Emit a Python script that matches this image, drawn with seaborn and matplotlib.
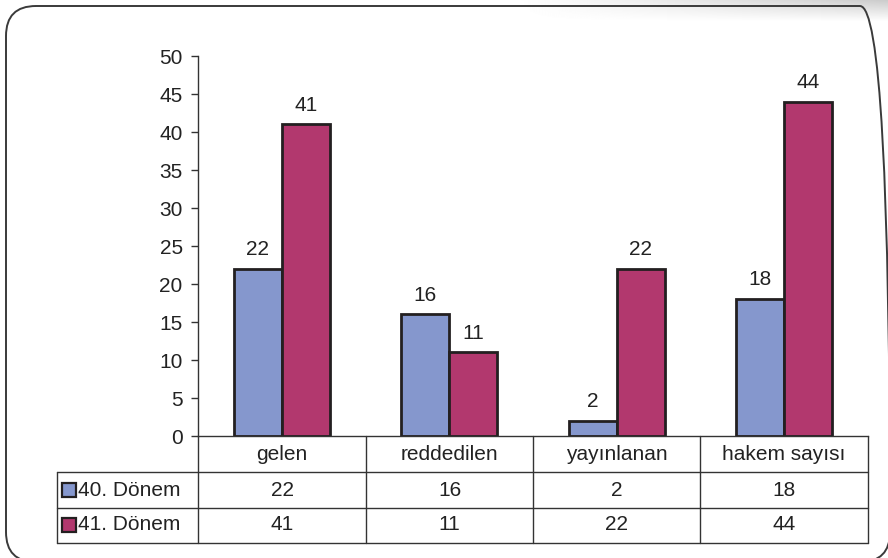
import matplotlib
matplotlib.use("Agg")
import matplotlib.pyplot as plt
import numpy as np
import pandas as pd
import seaborn as sns
from matplotlib.patches import FancyBboxPatch, Rectangle
from matplotlib.lines import Line2D

# data
categories = ["gelen", "reddedilen", "yayınlanan", "hakem sayısı"]
series_names = ["40. Dönem", "41. Dönem"]
donem_40 = [22, 16, 2, 18]
donem_41 = [41, 11, 22, 44]
colors = {"40. Dönem": "#8597CD", "41. Dönem": "#B2386E"}

W, H = 888, 558
FS = 15


# pixel -> figure fraction helpers
def fx(x):
    return x / W


def fy(y):
    return 1 - y / H


sns.set_theme(style="white")
plt.rcParams["font.family"] = ["Liberation Sans", "DejaVu Sans"]

df = pd.DataFrame({
    "kategori": categories * 2,
    "donem": [series_names[0]] * 4 + [series_names[1]] * 4,
    "deger": donem_40 + donem_41,
})

fig = plt.figure(figsize=(W / 100, H / 100), dpi=100)
fig.patch.set_facecolor("white")

# shadow strip at top right
sh = fig.add_axes([fx(330), fy(22), fx(888) - fx(330), fy(0) - fy(22)])
grad = np.linspace(0.80, 1.0, 22)[:, None] * np.ones((22, 200))
ramp = np.clip(np.linspace(-0.5, 1.0, 200), 0, 1)[None, :]
img = 1 - (1 - grad) * ramp
sh.imshow(img, cmap="gray", vmin=0, vmax=1, aspect="auto", extent=[0, 1, 0, 1])
sh.axis("off")

# rounded frame
frame = FancyBboxPatch((6, -4), 884, 556, boxstyle="round,pad=0,rounding_size=30",
                       transform=None, fill=False,
                       edgecolor="#3a3a3a", linewidth=1.4)
fig.patches.append(frame)

ax = fig.add_axes([fx(198), fy(436), fx(868) - fx(198), fy(56) - fy(436)])
ax.set_facecolor("none")
sns.barplot(data=df, x="kategori", y="deger", hue="donem", palette=colors,
            width=0.574, edgecolor="#231F20", linewidth=2, saturation=1,
            ax=ax, legend=False)

for cont in ax.containers:
    ax.bar_label(cont, padding=7, fontsize=FS, color="#222222")

ax.set_xlim(-0.5, 3.5)
ax.set_ylim(0, 50)
ax.set_yticks(range(0, 51, 5))
ax.tick_params(axis="y", length=5, width=1, color="#333333", labelsize=FS,
               labelcolor="#222222", pad=6, left=True)
ax.set_xticks([])
ax.set_xlabel("")
ax.set_ylabel("")
for s in ["top", "right"]:
    ax.spines[s].set_visible(False)
for s in ["left", "bottom"]:
    ax.spines[s].set_color("#333333")
    ax.spines[s].set_linewidth(1)

# data table under the axis
line_kw = dict(color="#333333", linewidth=1, transform=fig.transFigure)
col_edges = [198, 366, 533, 700, 868]
row_edges = [436, 472, 508, 543]
for y in row_edges[1:]:
    fig.lines.append(Line2D([fx(57), fx(868)], [fy(y), fy(y)], **line_kw))
for x in col_edges:
    fig.lines.append(Line2D([fx(x), fx(x)], [fy(436), fy(543)], **line_kw))
fig.lines.append(Line2D([fx(57), fx(57)], [fy(472), fy(543)], **line_kw))

txt_kw = dict(fontsize=FS, color="#222222", ha="center", va="center")
for i, cat in enumerate(categories):
    cx = (col_edges[i] + col_edges[i + 1]) / 2
    fig.text(fx(cx), fy(454), cat, **txt_kw)
    fig.text(fx(cx), fy(490), str(donem_40[i]), **txt_kw)
    fig.text(fx(cx), fy(525), str(donem_41[i]), **txt_kw)

for j, name in enumerate(series_names):
    yc = 490 + 35 * j
    fig.patches.append(Rectangle((fx(62), fy(yc + 7)), fx(14), fy(0) - fy(14),
                                 transform=fig.transFigure, facecolor=colors[name],
                                 edgecolor="#231F20", linewidth=1.6))
    fig.text(fx(78), fy(yc), name, fontsize=FS, color="#222222",
             ha="left", va="center")

fig.savefig("out.png", dpi=100)
